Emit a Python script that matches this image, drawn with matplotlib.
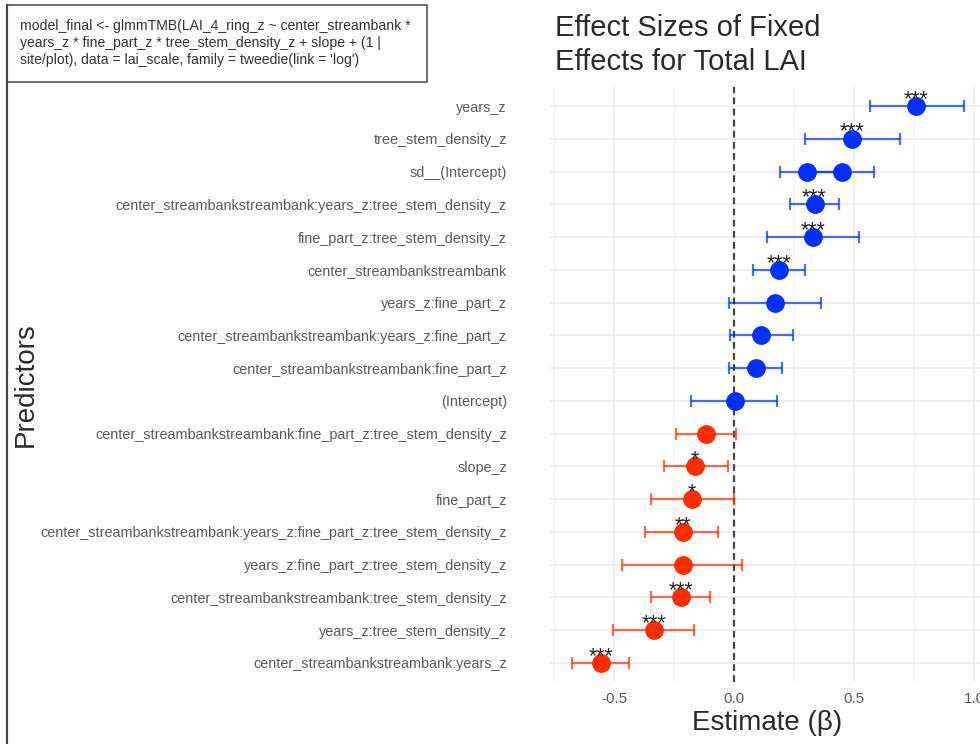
import matplotlib
matplotlib.use("Agg")
import matplotlib.pyplot as plt
from matplotlib.lines import Line2D
from matplotlib.patches import Rectangle

plt.rcParams['font.family'] = ['Liberation Sans', 'DejaVu Sans']

# predictor order, bottom -> top
predictors = [
    "center_streambankstreambank:years_z",
    "years_z:tree_stem_density_z",
    "center_streambankstreambank:tree_stem_density_z",
    "years_z:fine_part_z:tree_stem_density_z",
    "center_streambankstreambank:years_z:fine_part_z:tree_stem_density_z",
    "fine_part_z",
    "slope_z",
    "center_streambankstreambank:fine_part_z:tree_stem_density_z",
    "(Intercept)",
    "center_streambankstreambank:fine_part_z",
    "center_streambankstreambank:years_z:fine_part_z",
    "years_z:fine_part_z",
    "center_streambankstreambank",
    "fine_part_z:tree_stem_density_z",
    "center_streambankstreambank:years_z:tree_stem_density_z",
    "sd__(Intercept)",
    "tree_stem_density_z",
    "years_z",
]

# one entry per estimate (sd__(Intercept) has two)
terms = predictors[:16] + ["sd__(Intercept)"] + predictors[16:]
estimate = [-0.555, -0.336, -0.223, -0.214, -0.214, -0.177, -0.164, -0.118, 0.002,
            0.092, 0.113, 0.169, 0.186, 0.330, 0.335, 0.303, 0.450, 0.490, 0.760]
conf_low = [-0.676, -0.504, -0.345, -0.466, -0.370, -0.345, -0.294, -0.244, -0.180,
            -0.020, -0.016, -0.020, 0.077, 0.138, 0.232, 0.189, 0.300, 0.294, 0.567]
conf_high = [-0.437, -0.168, -0.100, 0.034, -0.067, 0.000, -0.025, 0.008, 0.180,
             0.200, 0.244, 0.362, 0.294, 0.520, 0.436, 0.430, 0.584, 0.693, 0.958]
stars = ["***", "***", "***", "", "**", "*", "*", "", "",
         "", "", "", "***", "***", "***", "", "", "***", "***"]

blue = "#0030ff"
red = "#ff2d00"

fig = plt.figure(figsize=(9.8, 7.44), dpi=100)
ax = fig.add_axes([550 / 980, 1 - 682 / 744, 436 / 980, 595 / 744])

ypos = {p: i + 1 for i, p in enumerate(predictors)}

for t, est, lo, hi, s in zip(terms, estimate, conf_low, conf_high, stars):
    y = ypos[t]
    c = blue if est >= 0 else red
    ax.errorbar(est, y, xerr=[[est - lo], [hi - est]], fmt='none', ecolor=c,
                alpha=0.7, elinewidth=1.6, capsize=4, capthick=1.6, zorder=3)
    ax.plot(est, y, 'o', color=c, markersize=12.5, zorder=4)
    if s:
        ax.annotate(s, (est, y), xytext=(0, 0.8), textcoords='offset points',
                    ha='center', va='baseline', fontsize=15.5, color='#222222', zorder=5)

ax.axvline(0, color='#444444', linestyle=(0, (3, 2)), linewidth=1.6, zorder=2)

ax.set_xlim(-0.768, 1.05)
ax.set_ylim(0.42, 18.58)
ax.set_yticks(range(1, len(predictors) + 1))
ax.set_yticklabels(predictors)
ax.set_xticks([-0.5, 0.0, 0.5, 1.0])
ax.set_xticklabels(["-0.5", "0.0", "0.5", "1.0"])
ax.set_xticks([-0.75, -0.25, 0.25, 0.75], minor=True)
ax.tick_params(axis='y', length=0, pad=31, labelsize=10.4, labelcolor='#5a5a5a')
ax.tick_params(axis='x', which='both', length=0, pad=7, labelsize=11, labelcolor='#5a5a5a')
ax.grid(True, which='major', color='#ebebeb', linewidth=1.1, zorder=0)
ax.grid(True, which='minor', axis='x', color='#f2f2f2', linewidth=0.8, zorder=0)
ax.set_axisbelow(True)
for sp in ax.spines.values():
    sp.set_visible(False)

fig.text(555 / 980, 1 - 14 / 744, "Effect Sizes of Fixed\nEffects for Total LAI",
         ha='left', va='top', fontsize=21, color='#2a2a2a', linespacing=1.25)
fig.text(767 / 980, 1 - 723 / 744, "Estimate (\u03b2)", ha='center', va='center',
         fontsize=20, color='#2a2a2a')
fig.text(26 / 980, 1 - 385 / 744, "Predictors", ha='center', va='center',
         rotation=90, fontsize=20, color='#2a2a2a')

# model formula box and left border
fig.patches.append(Rectangle((7 / 980, 1 - 82 / 744), 420 / 980, 77 / 744,
                             transform=fig.transFigure, fill=False,
                             edgecolor='#555555', linewidth=1.2))
fig.lines.append(Line2D([7 / 980, 7 / 980], [0, 1 - 5 / 744], transform=fig.transFigure,
                        color='#444444', linewidth=1.6))
fig.text(20 / 980, 1 - 43 / 744,
         "model_final <- glmmTMB(LAI_4_ring_z ~ center_streambank *\n"
         "years_z * fine_part_z * tree_stem_density_z + slope + (1 |\n"
         "site/plot), data = lai_scale, family = tweedie(link = 'log')",
         ha='left', va='center', fontsize=10.1, color='#333333', linespacing=1.25)

fig.savefig("out.png", dpi=100)
